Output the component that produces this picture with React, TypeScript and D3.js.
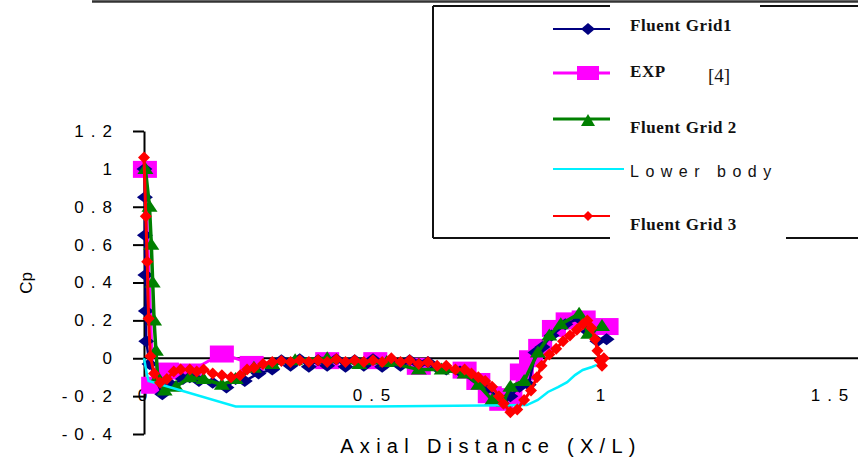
import React, { useEffect, useRef } from 'react';
import * as d3 from 'd3';

// Fluent Grid1 (navy diamonds)
const GRID1_X = [0.001, 0.002, 0.002, 0.003, 0.004, 0.005, 0.012, 0.04, 0.06, 0.085, 0.1, 0.12, 0.15, 0.18, 0.2, 0.22, 0.25, 0.28, 0.3, 0.32, 0.34, 0.36, 0.38, 0.4, 0.42, 0.44, 0.46, 0.48, 0.5, 0.52, 0.54, 0.56, 0.58, 0.6, 0.62, 0.64, 0.66, 0.69, 0.72, 0.75, 0.78, 0.8, 0.82, 0.84, 0.855, 0.87, 0.89, 0.92, 0.95, 0.97, 0.99, 1.01];
const GRID1_Y = [1.0, 0.85, 0.65, 0.44, 0.25, 0.09, -0.03, -0.19, -0.14, -0.11, -0.1, -0.12, -0.13, -0.155, -0.11, -0.12, -0.08, -0.06, -0.01, -0.04, -0.005, -0.045, -0.01, -0.04, -0.005, -0.045, -0.01, -0.04, -0.005, -0.045, -0.01, -0.04, -0.01, -0.03, -0.02, -0.05, -0.06, -0.07, -0.1, -0.16, -0.22, -0.2, -0.15, -0.14, 0.03, 0.06, 0.12, 0.18, 0.21, 0.14, 0.09, 0.1];

// EXP [4] (magenta squares)
const EXP_X = [0.002, 0.02, 0.05, 0.1, 0.17, 0.235, 0.4, 0.505, 0.6, 0.7, 0.73, 0.755, 0.78, 0.8, 0.825, 0.845, 0.865, 0.895, 0.925, 0.96, 1.01];
const EXP_Y = [1.0, -0.14, -0.065, -0.07, 0.025, -0.03, -0.01, -0.01, -0.04, -0.06, -0.12, -0.19, -0.23, -0.2, -0.07, 0.0, 0.06, 0.16, 0.2, 0.21, 0.17];

// Fluent Grid 2 (green triangles)
const GRID2_X = [0.003, 0.012, 0.016, 0.019, 0.022, 0.026, 0.03, 0.045, 0.07, 0.1, 0.13, 0.17, 0.2, 0.24, 0.28, 0.33, 0.4, 0.47, 0.53, 0.6, 0.65, 0.7, 0.73, 0.76, 0.785, 0.8, 0.83, 0.86, 0.885, 0.91, 0.95, 0.97, 1.0];
const GRID2_Y = [1.0, 0.8, 0.6, 0.4, 0.2, 0.04, -0.1, -0.17, -0.15, -0.1, -0.11, -0.14, -0.11, -0.05, -0.03, -0.01, 0.0, -0.03, -0.02, -0.06, -0.06, -0.08, -0.14, -0.22, -0.23, -0.15, -0.12, 0.03, 0.12, 0.18, 0.235, 0.13, 0.17];

// Lower body (cyan line)
const LOWER_X = [0.0, 0.006, 0.01, 0.2, 0.5, 0.836, 0.86, 0.882, 0.904, 0.924, 0.941, 0.958, 0.978, 0.989];
const LOWER_Y = [0.0, -0.08, -0.12, -0.255, -0.255, -0.247, -0.22, -0.178, -0.152, -0.126, -0.089, -0.062, -0.046, -0.035];

// Fluent Grid 3 (red)
const GRID3_X = [0.0, 0.004, 0.007, 0.01, 0.014, 0.022, 0.035, 0.05, 0.065, 0.08, 0.1, 0.115, 0.13, 0.15, 0.17, 0.19, 0.21, 0.225, 0.24, 0.26, 0.28, 0.3, 0.32, 0.34, 0.36, 0.38, 0.4, 0.42, 0.44, 0.46, 0.48, 0.5, 0.52, 0.54, 0.56, 0.58, 0.6, 0.62, 0.64, 0.66, 0.68, 0.7, 0.715, 0.73, 0.745, 0.76, 0.775, 0.785, 0.8, 0.815, 0.83, 0.845, 0.858, 0.868, 0.885, 0.9, 0.915, 0.93, 0.945, 0.958, 0.968, 0.977, 0.985, 0.99, 0.995, 1.0, 1.004];
const GRID3_Y = [1.06, 0.75, 0.51, 0.21, 0.01, -0.08, -0.13, -0.11, -0.07, -0.06, -0.06, -0.07, -0.06, -0.08, -0.09, -0.1, -0.09, -0.06, -0.05, -0.03, -0.02, -0.015, -0.02, -0.01, -0.02, -0.01, -0.02, -0.005, -0.02, -0.01, -0.02, -0.01, -0.02, 0.0, -0.02, -0.01, -0.03, -0.02, -0.04, -0.04, -0.06, -0.06, -0.08, -0.1, -0.12, -0.15, -0.2, -0.24, -0.285, -0.27, -0.22, -0.17, -0.1, -0.04, 0.02, 0.05, 0.09, 0.12, 0.15, 0.18, 0.2, 0.16, 0.1, 0.04, -0.01, -0.04, 0.0];

const Y_TICKS = [-0.4, -0.2, 0, 0.2, 0.4, 0.6, 0.8, 1, 1.2];
const X_TICKS = [0, 0.5, 1, 1.5];
const LEGEND_LABELS = ['Fluent Grid1', 'EXP', 'Fluent Grid 2', 'Lower body', 'Fluent Grid 3'];

const NAVY = '#000080';
const MAGENTA = '#ff00ff';
const GREEN = '#008000';
const CYAN = '#00f0ff';
const RED = '#ff0000';

const diamond = 'M0,-6L8,0L0,6L-8,0Z';
const triangle = 'M0,-7L8,5L-8,5Z';
const smallDiamond = 'M0,-6L6,0L0,6L-6,0Z';

const App: React.FC = () => {
  const svgRef = useRef<SVGSVGElement>(null);

  useEffect(() => {
    if (!svgRef.current) return;
    const svg = d3.select(svgRef.current);
    svg.selectAll('*').remove();

    const x = d3.scaleLinear().domain([0, 1.5]).range([144, 831]);
    const y = d3.scaleLinear().domain([-0.4, 1.2]).range([434, 131]);

    const zip = (xs: number[], ys: number[]) => xs.map((v, i) => [v, ys[i]] as [number, number]);
    const line = d3.line<[number, number]>().x(d => x(d[0])).y(d => y(d[1]));

    // top frame line
    svg.append('line')
      .attr('x1', 92).attr('x2', 858).attr('y1', 1.5).attr('y2', 1.5)
      .attr('stroke', '#333').attr('stroke-width', 2.5);

    // y axis
    const yAxis = d3.axisLeft(y)
      .tickValues(Y_TICKS)
      .tickSize(11)
      .tickSizeOuter(0)
      .tickPadding(14)
      .tickFormat(d => String(d));
    const gy = svg.append('g').attr('transform', `translate(${x(0)},0)`).call(yAxis);
    gy.select('.domain').attr('stroke', '#000').attr('stroke-width', 2);
    gy.selectAll('.tick line').attr('stroke', '#000').attr('stroke-width', 2);
    gy.selectAll('.tick text')
      .attr('fill', '#000')
      .style('font-family', 'Liberation Sans, Arial, sans-serif')
      .style('font-size', '17px')
      .style('letter-spacing', '7px');

    // x axis (crosses at 0)
    svg.append('line')
      .attr('x1', x(0)).attr('x2', 858).attr('y1', y(0)).attr('y2', y(0))
      .attr('stroke', '#000').attr('stroke-width', 2);
    svg.append('g').selectAll('text')
      .data(X_TICKS)
      .enter()
      .append('text')
      .attr('x', d => x(d) + 2)
      .attr('y', 401)
      .attr('text-anchor', 'middle')
      .style('font-family', 'Liberation Sans, Arial, sans-serif')
      .style('font-size', '17px')
      .style('letter-spacing', '7px')
      .attr('fill', '#000')
      .text(d => String(d));

    // axis titles
    svg.append('text')
      .attr('x', 491)
      .attr('y', 453)
      .attr('text-anchor', 'middle')
      .style('font-family', 'Liberation Sans, Arial, sans-serif')
      .style('font-size', '20px')
      .style('letter-spacing', '6.3px')
      .attr('fill', '#000')
      .text('Axial Distance (X/L)');
    svg.append('text')
      .attr('transform', 'translate(32,283) rotate(-90)')
      .attr('text-anchor', 'middle')
      .style('font-family', 'Liberation Sans, Arial, sans-serif')
      .style('font-size', '17px')
      .attr('fill', '#000')
      .text('Cp');

    const plot = svg.append('g');

    // EXP
    const exp = zip(EXP_X, EXP_Y);
    plot.append('path').attr('d', line(exp)!).attr('fill', 'none').attr('stroke', MAGENTA).attr('stroke-width', 3);
    plot.selectAll('.exp').data(exp).enter().append('rect')
      .attr('x', d => x(d[0]) - 12).attr('y', d => y(d[1]) - 8)
      .attr('width', 24).attr('height', 17).attr('fill', MAGENTA);

    // Fluent Grid1
    const g1 = zip(GRID1_X, GRID1_Y);
    plot.append('path').attr('d', line(g1)!).attr('fill', 'none').attr('stroke', NAVY).attr('stroke-width', 2.5);
    plot.selectAll('.g1').data(g1).enter().append('path')
      .attr('d', diamond)
      .attr('transform', d => `translate(${x(d[0])},${y(d[1])})`)
      .attr('fill', NAVY);

    // Fluent Grid 2
    const g2 = zip(GRID2_X, GRID2_Y);
    plot.append('path').attr('d', line(g2)!).attr('fill', 'none').attr('stroke', GREEN).attr('stroke-width', 3.5);
    plot.selectAll('.g2').data(g2).enter().append('path')
      .attr('d', triangle)
      .attr('transform', d => `translate(${x(d[0])},${y(d[1])})`)
      .attr('fill', GREEN);

    // Lower body
    plot.append('path').attr('d', line(zip(LOWER_X, LOWER_Y))!)
      .attr('fill', 'none').attr('stroke', CYAN).attr('stroke-width', 2.5);

    // Fluent Grid 3
    const g3 = zip(GRID3_X, GRID3_Y);
    plot.append('path').attr('d', line(g3)!).attr('fill', 'none').attr('stroke', RED).attr('stroke-width', 3);
    plot.selectAll('.g3').data(g3).enter().append('path')
      .attr('d', smallDiamond)
      .attr('transform', d => `translate(${x(d[0])},${y(d[1])})`)
      .attr('fill', RED);

    // legend frame
    const lg = svg.append('g');
    const frame = [
      [433, 6, 610, 6], [760, 6, 858, 6],
      [433, 238, 610, 238], [786, 238, 858, 238],
      [433, 6, 433, 238]
    ];
    frame.forEach(s => {
      lg.append('line')
        .attr('x1', s[0]).attr('y1', s[1]).attr('x2', s[2]).attr('y2', s[3])
        .attr('stroke', '#111').attr('stroke-width', 2);
    });

    const serif = 'Liberation Serif, Times New Roman, serif';
    const items = [
      { color: NAVY, ly: 29, ty: 31, x2: 610, w: 2, marker: 'diamond' },
      { color: MAGENTA, ly: 73, ty: 77, x2: 610, w: 3, marker: 'square' },
      { color: GREEN, ly: 119, ty: 133, x2: 610, w: 3, marker: 'triangle' },
      { color: CYAN, ly: 169, ty: 177, x2: 624, w: 2, marker: 'none' },
      { color: RED, ly: 216, ty: 230, x2: 610, w: 2, marker: 'dot' }
    ];
    items.forEach((it, i) => {
      lg.append('line')
        .attr('x1', 553).attr('x2', it.x2).attr('y1', it.ly).attr('y2', it.ly)
        .attr('stroke', it.color).attr('stroke-width', it.w);
      if (it.marker === 'diamond') {
        lg.append('path').attr('d', 'M0,-6L7,0L0,6L-7,0Z').attr('transform', `translate(588,${it.ly})`).attr('fill', NAVY);
      } else if (it.marker === 'square') {
        lg.append('rect').attr('x', 577).attr('y', it.ly - 7).attr('width', 22).attr('height', 14).attr('fill', MAGENTA);
      } else if (it.marker === 'triangle') {
        lg.append('path').attr('d', 'M0,-7L7,5L-7,5Z').attr('transform', `translate(588,${it.ly + 2})`).attr('fill', GREEN);
      } else if (it.marker === 'dot') {
        lg.append('path').attr('d', 'M0,-5L5,0L0,5L-5,0Z').attr('transform', `translate(588,${it.ly})`).attr('fill', RED);
      }
      const isLower = i === 3;
      lg.append('text')
        .attr('x', 630)
        .attr('y', it.ty)
        .style('font-family', isLower ? 'Liberation Sans, Arial, sans-serif' : serif)
        .style('font-size', isLower ? '16px' : '17px')
        .style('font-weight', isLower ? 'normal' : 'bold')
        .style('letter-spacing', isLower ? '6.5px' : '0.6px')
        .attr('fill', '#111')
        .text(LEGEND_LABELS[i]);
    });
    lg.append('text')
      .attr('x', 708)
      .attr('y', 82)
      .style('font-family', serif)
      .style('font-size', '19px')
      .attr('fill', '#111')
      .text('[4]');
  }, []);

  return (
    <svg
      ref={svgRef}
      width={858}
      height={460}
      style={{ position: 'absolute', left: 0, top: 0, background: '#fff' }}
    />
  );
};

export default App;
